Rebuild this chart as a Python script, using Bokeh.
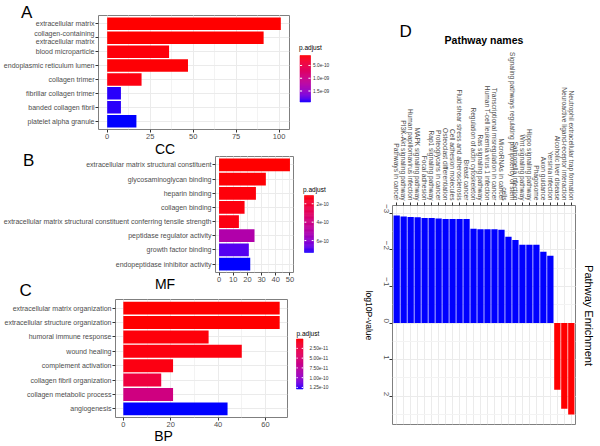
import math
from bokeh.plotting import figure
from bokeh.models import (ColumnDataSource, Range1d, SingleIntervalTicker, FixedTicker,
                          CustomJSTickFormatter)
from bokeh.layouts import row, column
from bokeh.transform import linear_cmap
from bokeh.core.properties import value
from bokeh.embed import file_html
from bokeh.resources import INLINE

# ---------------- data ----------------
cc_terms = ["extracellular matrix", "collagen-containing\nextracellular matrix", "blood microparticle",
            "endoplasmic reticulum lumen", "collagen trimer", "fibrillar collagen trimer",
            "banded collagen fibril", "platelet alpha granule"]
cc_counts = [101, 91, 36, 47, 20, 8, 8, 17]
cc_padj = [1.10e-10, 1.12e-10, 1.40e-10, 1.30e-10, 1.60e-10, 1.90e-09, 1.90e-09, 1.93e-09]
cc_legend_ticks = [5e-10, 1e-9, 1.5e-9]

mf_terms = ["extracellular matrix structural constituent", "glycosaminoglycan binding", "heparin binding",
            "collagen binding", "extracellular matrix structural constituent conferring tensile strength",
            "peptidase regulator activity", "growth factor binding", "endopeptidase inhibitor activity"]
mf_counts = [50, 33, 26, 18, 14, 25, 21, 22]
mf_padj = [1.10e-10, 1.15e-10, 1.20e-10, 1.25e-10, 1.30e-10, 5.10e-10, 6.90e-10, 7.30e-10]
mf_legend_ticks = [2e-10, 4e-10, 6e-10]

bp_terms = ["extracellular matrix organization", "extracellular structure organization",
            "humoral immune response", "wound healing", "complement activation",
            "collagen fibril organization", "collagen metabolic process", "angiogenesis"]
bp_counts = [66, 66, 36, 50, 21, 16, 21, 44]
bp_padj = [1.0e-12, 1.2e-12, 3.0e-12, 4.0e-12, 5.0e-12, 2.4e-11, 6.0e-11, 1.29e-10]
bp_legend_ticks = [2.5e-11, 5e-11, 7.5e-11, 1e-10, 1.25e-10]

kegg_pathways = ["Pathways in cancer", "PI3K-Akt signaling pathway", "Human papillomavirus infection",
                 "MAPK signaling pathway", "Focal adhesion", "Rap1 signaling pathway",
                 "Proteoglycans in cancer", "Osteoclast differentiation", "Cell adhesion molecules",
                 "Fluid shear stress and atherosclerosis", "Breast cancer",
                 "Regulation of actin cytoskeleton", "Ras signaling pathway",
                 "Human T-cell leukemia virus 1 infection", "Transcriptional misregulation in cancer",
                 "MicroRNAs in cancer", "Signaling pathways regulating pluripotency of stem\ncells",
                 "Salmonella infection", "Wnt signaling pathway", "Hippo signaling pathway",
                 "Phagosome", "Axon guidance", "Yersinia infection", "Alcoholic liver disease",
                 "Neuroactive ligand-receptor interaction", "Neutrophil extracellular trap formation"]
kegg_log10p = [-2.94, -2.91, -2.90, -2.89, -2.87, -2.87, -2.86, -2.84, -2.84, -2.84, -2.84,
               -2.58, -2.56, -2.56, -2.56, -2.55, -2.36, -2.27, -2.14, -2.14, -2.14, -1.95, -1.84,
               1.82, 2.34, 2.50]

# ---------------- colour helpers (Lab gradient red -> blue, as ggplot does) ----------------
def _to_lab(hexc):
    rgb = [int(hexc[i:i + 2], 16) / 255 for i in (1, 3, 5)]
    r, g, b = [c / 12.92 if c <= 0.04045 else ((c + 0.055) / 1.055) ** 2.4 for c in rgb]
    X = (0.4124 * r + 0.3576 * g + 0.1805 * b) / 0.95047
    Y = (0.2126 * r + 0.7152 * g + 0.0722 * b)
    Z = (0.0193 * r + 0.1192 * g + 0.9505 * b) / 1.08883
    f = lambda t: t ** (1 / 3) if t > (6 / 29) ** 3 else t / (3 * (6 / 29) ** 2) + 4 / 29
    return (116 * f(Y) - 16, 500 * (f(X) - f(Y)), 200 * (f(Y) - f(Z)))


def _from_lab(L, a, b):
    fy = (L + 16) / 116
    fx, fz = fy + a / 500, fy - b / 200
    fi = lambda t: t ** 3 if t > 6 / 29 else 3 * (6 / 29) ** 2 * (t - 4 / 29)
    X, Y, Z = 0.95047 * fi(fx), fi(fy), 1.08883 * fi(fz)
    lin = [3.2406 * X - 1.5372 * Y - 0.4986 * Z,
           -0.9689 * X + 1.8758 * Y + 0.0415 * Z,
           0.0557 * X - 0.2040 * Y + 1.0570 * Z]
    out = []
    for c in lin:
        c = max(0.0, min(1.0, c))
        c = 12.92 * c if c <= 0.0031308 else 1.055 * c ** (1 / 2.4) - 0.055
        out.append(int(round(max(0.0, min(1.0, c)) * 255)))
    return "#%02x%02x%02x" % tuple(out)


_lo, _hi = _to_lab("#ff0000"), _to_lab("#0000ff")
palette = [_from_lab(*[_lo[k] + (_hi[k] - _lo[k]) * i / 255 for k in range(3)]) for i in range(256)]

FONT = "Liberation Sans"
LEFT_W = 340      # width of the left (GO) column
RIGHT_W = 260     # width of the KEGG panel

LABEL_JS = "const i = Math.round(tick) - 1; return (i >= 0 && i < labels.length) ? labels[i] : '';"


def put_text(p, x, y, text, size, align="left", angle=0.0, style="normal", color="#000000"):
    """Free text centred vertically on page-pixel y (extra ranges), drawn above the axes."""
    p.text(x=[x], y=[y], text=[text], x_range_name="px", y_range_name="px", level="annotation",
           text_font=value(FONT), text_font_size=value(size), text_align=value(align),
           text_baseline=value("middle"), angle=angle, text_font_style=value(style),
           text_color=color)


def go_panel(terms, counts, padj, legend_ticks, fmt, height, frame, interval,
             bar, title_xy, label_x):
    L, R, T, B, fig_top = frame
    n_terms = len(terms)
    xmax = max(counts)
    pos = [n_terms - i for i in range(n_terms)]          # first term on top
    p = figure(width=LEFT_W, height=height,
               x_range=Range1d(-0.05 * xmax, 1.05 * xmax),
               y_range=Range1d(0.4, n_terms + 0.6),
               output_backend="svg", toolbar_location=None,
               min_border_left=L, min_border_right=LEFT_W - R,
               min_border_top=T - fig_top, min_border_bottom=fig_top + height - B)
    src = ColumnDataSource(dict(pos=pos, term=terms, count=counts, padj=padj))
    p.hbar(y="pos", left=0, right="count", height=0.9, source=src, line_color=None,
           fill_color=linear_cmap("padj", palette, low=min(padj), high=max(padj)))
    p.xaxis.ticker = SingleIntervalTicker(interval=interval, num_minor_ticks=2)
    p.yaxis.ticker = FixedTicker(ticks=pos, minor_ticks=[])
    p.yaxis.formatter = CustomJSTickFormatter(args=dict(labels=list(reversed(terms))), code=LABEL_JS)
    p.axis.axis_line_color = None
    p.axis.minor_tick_line_color = None
    p.axis.major_tick_line_color = "#333333"
    p.axis.major_tick_out = 3
    p.axis.major_tick_in = 0
    p.xaxis.major_label_standoff = 0
    p.yaxis.major_label_standoff = 1
    p.axis.major_label_text_font = FONT
    p.axis.major_label_text_color = "#4D4D4D"
    p.xaxis.major_label_text_font_size = "7.5px"
    p.yaxis.major_label_text_font_size = "7px"
    p.xgrid.grid_line_color = "#EBEBEB"
    p.xgrid.minor_grid_line_color = "#F3F3F3"
    p.ygrid.grid_line_color = "#EBEBEB"
    p.outline_line_color = "#7F7F7F"
    p.outline_line_width = 1

    # page-pixel ranges + a p.adjust range for the colour-bar legend
    pmin, pmax = min(padj), max(padj)
    x0, x1, ytop, ybot = bar
    slope = (pmax - pmin) / (ybot - ytop)
    p.extra_x_ranges = {"px": Range1d(L, R)}
    p.extra_y_ranges = {"px": Range1d(B, T),
                        "leg": Range1d(pmin + (B - ytop) * slope, pmin + (T - ytop) * slope)}
    n = 48
    edges = [pmin + (pmax - pmin) * i / n for i in range(n + 1)]
    cols = [palette[int(round((i + 0.5) / n * 255))] for i in range(n)]
    p.quad(left=[x0] * n, right=[x1] * n, bottom=edges[:-1], top=edges[1:], fill_color=cols,
           line_color=cols, line_width=0.6, x_range_name="px", y_range_name="leg",
           level="annotation")
    w = (x1 - x0) / 5
    k = len(legend_ticks)
    for a, b in ((x0, x0 + w), (x1 - w, x1)):
        p.segment(x0=[a] * k, x1=[b] * k, y0=legend_ticks, y1=legend_ticks, line_color="white",
                  line_width=1, x_range_name="px", y_range_name="leg", level="annotation")
    p.text(x=[label_x] * k, y=legend_ticks, text=[fmt.format(t) for t in legend_ticks],
           x_range_name="px", y_range_name="leg", level="annotation",
           text_font=value(FONT), text_font_size=value("4.8px"), text_align=value("left"),
           text_baseline=value("middle"), text_color="#333333")
    put_text(p, title_xy[0], title_xy[1], "p.adjust", "6.5px")
    return p


# Panel A (CC): figure spans page y 0..154, frame 98..289 x 15..129
pA = go_panel(cc_terms, cc_counts, cc_padj, cc_legend_ticks, "{:.1e}", 154,
              (98, 289, 15, 129, 0), 25,
              (299.5, 310, 55, 101.5), (298.5, 47.2), 312.5)
put_text(pA, 20.5, 12, "A", "17px")
put_text(pA, 164.5, 148.3, "CC", "14px", align="center")

# Panel B (MF): figure spans page y 154..297, frame 215..293 x 156..272
pB = go_panel(mf_terms, mf_counts, mf_padj, mf_legend_ticks, "{:.0e}", 143,
              (215, 293, 156, 272, 154), 10,
              (304, 313, 195, 252), (302.5, 189.2), 316)
put_text(pB, 22.5, 160, "B", "17px")
put_text(pB, 164.5, 283.5, "MF", "14px", align="center")
put_text(pB, 19, 289.5, "C", "17px")

# Panel C (BP): figure spans page y 297..446, frame 115..287 x 299..417
pC = go_panel(bp_terms, bp_counts, bp_padj, bp_legend_ticks, "{:.2e}", 149,
              (115, 287, 299, 417, 297), 20,
              (296, 302.5, 338.5, 388.5), (296, 332.7), 309)
put_text(pC, 163, 435.5, "BP", "14px", align="center")

# Panel D (KEGG): figure spans page x 340..600, y 0..446; frame 392..575 x 205..424
n_path = len(kegg_pathways)
kpos = [i + 1 for i in range(n_path)]
vmin, vmax = min(kegg_log10p), max(kegg_log10p)
span = vmax - vmin
pD = figure(width=RIGHT_W, height=446,
            x_range=Range1d(0.4, n_path + 0.6),
            y_range=Range1d(start=vmax + 0.05 * span, end=vmin - 0.05 * span),
            x_axis_location="above", output_backend="svg", toolbar_location=None,
            min_border_left=392 - LEFT_W, min_border_right=LEFT_W + RIGHT_W - 575,
            min_border_top=205, min_border_bottom=446 - 424)
srcD = ColumnDataSource(dict(pos=kpos, pathway=kegg_pathways, value=kegg_log10p,
                             color=["#0000FF" if v < 0 else "#FF0000" for v in kegg_log10p]))
pD.vbar(x="pos", bottom=0, top="value", width=0.9, fill_color="color", line_color=None,
        source=srcD)
pD.xaxis.ticker = FixedTicker(ticks=kpos, minor_ticks=[])
pD.xaxis.formatter = CustomJSTickFormatter(args=dict(labels=kegg_pathways), code=LABEL_JS)
pD.yaxis.ticker = SingleIntervalTicker(interval=1, num_minor_ticks=2)
pD.axis.axis_line_color = None
pD.axis.minor_tick_line_color = None
pD.axis.major_tick_line_color = "#333333"
pD.axis.major_tick_out = 3
pD.axis.major_tick_in = 0
pD.axis.major_label_standoff = 2
pD.axis.major_label_text_font = FONT
pD.axis.major_label_text_color = "#4D4D4D"
pD.xaxis.major_label_text_font_size = "6.6px"
pD.yaxis.major_label_text_font_size = "8px"
pD.xaxis.major_label_orientation = -math.pi / 2
pD.yaxis.major_label_orientation = -math.pi / 2
pD.xaxis.axis_label = "Pathway names"
pD.xaxis.axis_label_text_font = FONT
pD.xaxis.axis_label_text_font_size = "10.5px"
pD.xaxis.axis_label_text_font_style = "bold"
pD.xaxis.axis_label_text_color = "#000000"
pD.xaxis.axis_label_standoff = 3
pD.xgrid.grid_line_color = "#EBEBEB"
pD.ygrid.grid_line_color = "#EBEBEB"
pD.ygrid.minor_grid_line_color = "#F3F3F3"
pD.outline_line_color = "#7F7F7F"
pD.outline_line_width = 1
pD.extra_x_ranges = {"px": Range1d(392, 575)}
pD.extra_y_ranges = {"px": Range1d(424, 205)}
put_text(pD, 399, 31, "D", "17px")
put_text(pD, 368.5, 315, "log10P-value", "8.5px", align="center", angle=-math.pi / 2)
put_text(pD, 588, 315, "Pathway Enrichment", "11px", align="center", angle=-math.pi / 2)

layout = row(column(row(pA), row(pB), row(pC)), pD)
open("out.html", "w").write(file_html(layout, INLINE))
